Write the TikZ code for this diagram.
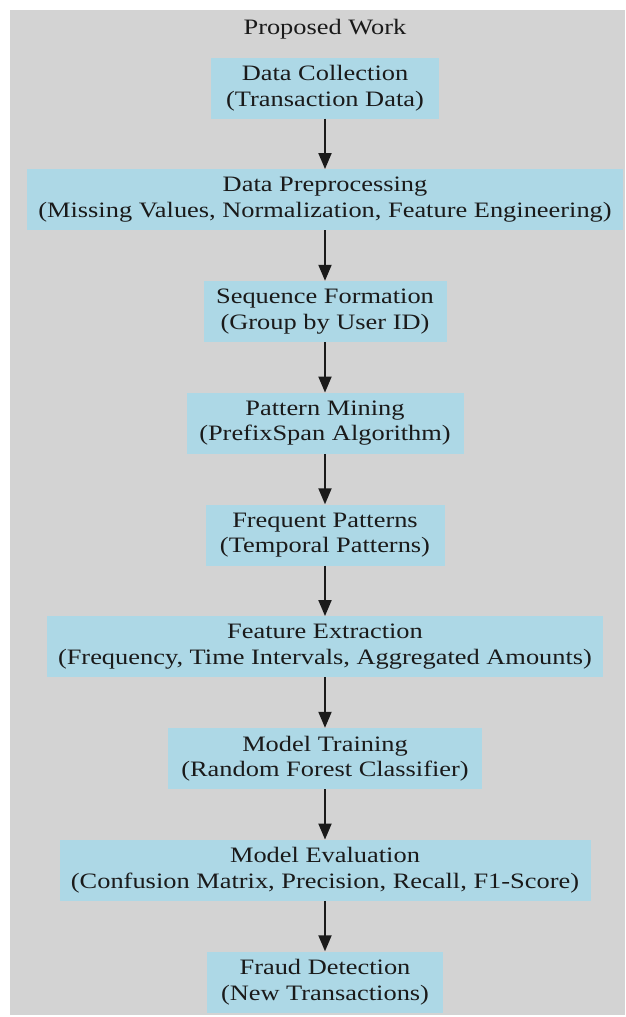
\documentclass[tikz,border=0pt]{standalone}
\usepackage{fontspec}
\setmainfont{Liberation Serif}[FakeStretch=1.2]
\usetikzlibrary{arrows.meta}
\definecolor{clusterbg}{HTML}{D3D3D3}
\definecolor{boxbg}{HTML}{ADD8E6}
\definecolor{inkcol}{HTML}{1A1A1A}
\tikzset{
  stepbox/.style={fill=boxbg, draw=none, minimum height=61pt, inner sep=0pt,
    align=center, font=\fontsize{22}{25.5}\selectfont, text=inkcol},
  flowarrow/.style={draw=inkcol, line width=2pt, -{Triangle[length=16pt,width=13pt]}},
  titletext/.style={font=\fontsize{22}{25.5}\selectfont, text=inkcol, inner sep=0pt}
}
\begin{document}
\begin{tikzpicture}[x=1pt,y=-1pt]
\useasboundingbox (0,0) rectangle (625,1017);
\fill[white] (0,0) rectangle (625,1017);
\fill[clusterbg] (10,10) rectangle (625,1015);
\node[titletext] (title) at (325,29) {Proposed Work};
\node[stepbox, minimum width=228pt] (n1) at (325,88) {Data Collection\\(Transaction Data)};
\node[stepbox, minimum width=596pt] (n2) at (325,199.75) {Data Preprocessing\\(Missing Values, Normalization, Feature Engineering)};
\node[stepbox, minimum width=243pt] (n3) at (325,311.5) {Sequence Formation\\(Group by User ID)};
\node[stepbox, minimum width=277pt] (n4) at (325,423.25) {Pattern Mining\\(PrefixSpan Algorithm)};
\node[stepbox, minimum width=239pt] (n5) at (325,535) {Frequent Patterns\\(Temporal Patterns)};
\node[stepbox, minimum width=556pt] (n6) at (325,646.75) {Feature Extraction\\(Frequency, Time Intervals, Aggregated Amounts)};
\node[stepbox, minimum width=314pt] (n7) at (325,758.5) {Model Training\\(Random Forest Classifier)};
\node[stepbox, minimum width=531pt] (n8) at (325,870.25) {Model Evaluation\\(Confusion Matrix, Precision, Recall, F1-Score)};
\node[stepbox, minimum width=236pt] (n9) at (325,982) {Fraud Detection\\(New Transactions)};
\foreach \a/\b in {n1/n2,n2/n3,n3/n4,n4/n5,n5/n6,n6/n7,n7/n8,n8/n9}
  \draw[flowarrow] (\a.south) -- (\b.north);
\end{tikzpicture}
\end{document}
